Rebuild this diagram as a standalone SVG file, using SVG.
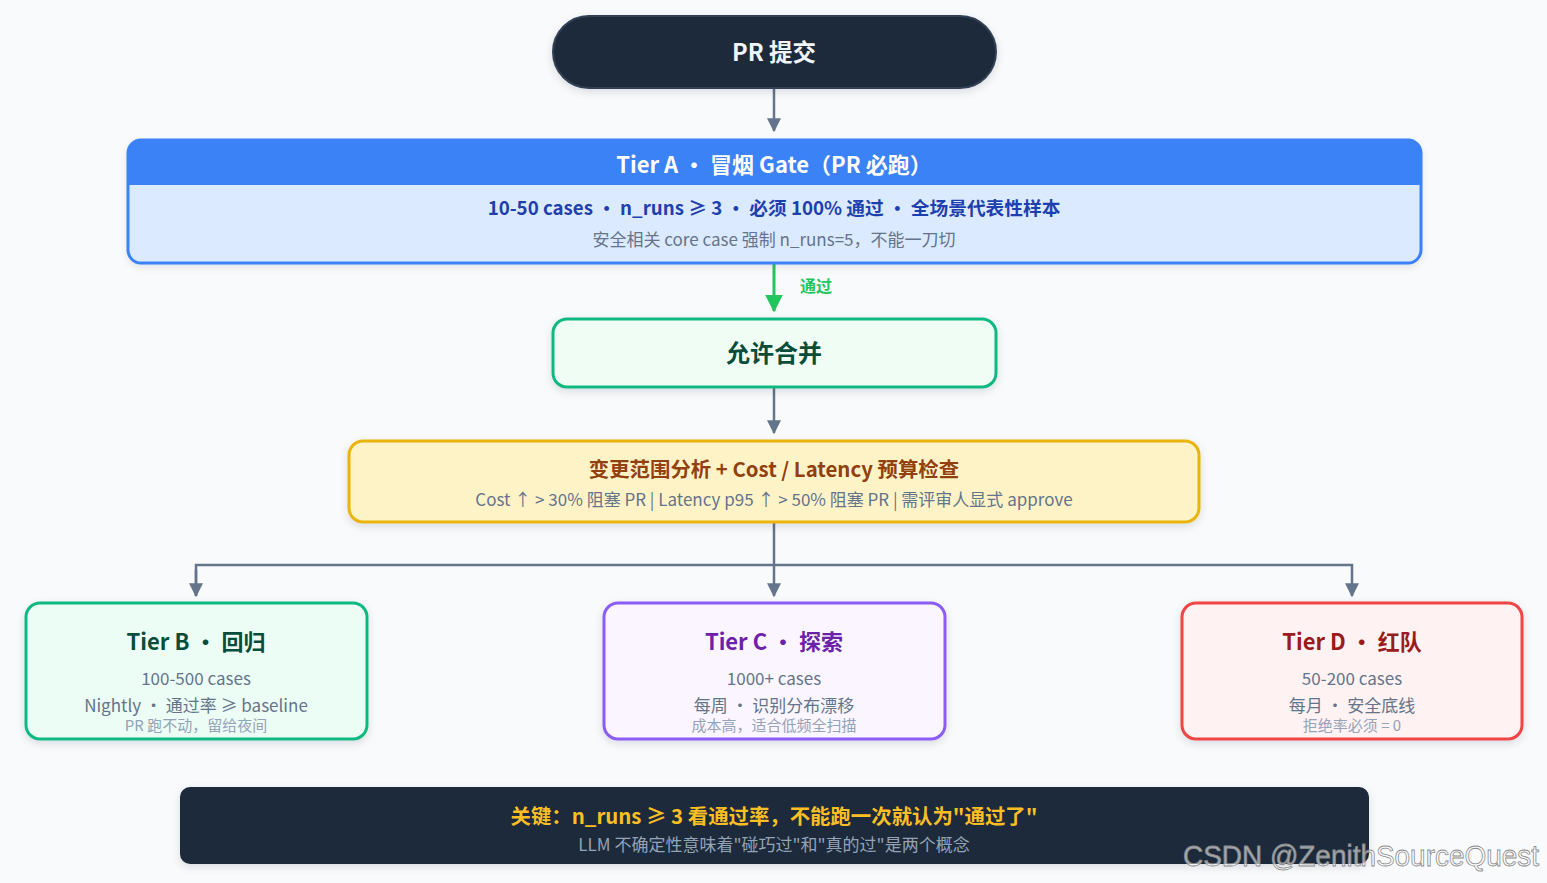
<svg xmlns="http://www.w3.org/2000/svg" width="1547" height="883" viewBox="0 0 1547 883">
<defs>
<style>
text{font-family:"Noto Sans CJK SC","Noto Sans",sans-serif;text-anchor:middle}
.b{font-weight:700}
.c{fill:none;stroke:#64748b;stroke-width:2.5}
.sub{fill:#64748b;font-size:17px}
.note{fill:#94a3b8;font-size:15px}
</style>
<marker id="ah" viewBox="0 0 12 12" refX="11" refY="6" markerWidth="15" markerHeight="14" markerUnits="userSpaceOnUse" orient="auto"><path d="M0,0 L12,6 L0,12 z" fill="#64748b"/></marker>
<marker id="ag" viewBox="0 0 12 12" refX="11" refY="6" markerWidth="18" markerHeight="18" markerUnits="userSpaceOnUse" orient="auto"><path d="M0,0 L12,6 L0,12 z" fill="#22c55e"/></marker>
<filter id="sh" x="-5%" y="-20%" width="110%" height="140%"><feDropShadow dx="0" dy="3" stdDeviation="4" flood-color="#0f172a" flood-opacity="0.12"/></filter>
<clipPath id="ca"><rect x="128" y="140" width="1293" height="123" rx="13"/></clipPath>
</defs>
<rect width="1547" height="883" fill="#f8fafc"/>
<g id="connectors">
<path class="c" d="M774,88 V131" marker-end="url(#ah)"/>
<path d="M774,263 V311" fill="none" stroke="#22c55e" stroke-width="3" marker-end="url(#ag)"/>
<text x="816" y="292" class="b" style="fill:#22c55e;font-size:16px">通过</text>
<path class="c" d="M774,387 V433" marker-end="url(#ah)"/>
<path class="c" d="M774,522 V596" marker-end="url(#ah)"/>
<path class="c" d="M196,596 V565 H1352 V596" marker-end="url(#ah)"/>
<path class="c" d="M196,570 V596" marker-end="url(#ah)"/>
</g>
<g id="pr">
<rect x="553" y="16" width="443" height="72" rx="36" fill="#1e293b" stroke="#334155" stroke-width="2" filter="url(#sh)"/>
<text x="774" y="61" class="b" style="fill:#f1f5f9;font-size:23.5px">PR 提交</text>
</g>
<g id="tierA">
<rect x="128" y="140" width="1293" height="123" rx="13" fill="#dbeafe" filter="url(#sh)"/>
<rect x="128" y="140" width="1293" height="45" fill="#3b82f6" clip-path="url(#ca)"/>
<rect x="128" y="140" width="1293" height="123" rx="13" fill="none" stroke="#3b82f6" stroke-width="3"/>
<text x="774" y="173" class="b" style="fill:#ffffff;font-size:22px">Tier A · 冒烟 Gate（PR 必跑）</text>
<text x="774" y="215" class="b" style="fill:#1e40af;font-size:18.7px">10-50 cases · n_runs ≥ 3 · 必须 100% 通过 · 全场景代表性样本</text>
<text x="774" y="246" style="fill:#64748b;font-size:17px">安全相关 core case 强制 n_runs=5，不能一刀切</text>
</g>
<g id="merge">
<rect x="553" y="319" width="443" height="68" rx="14" fill="#f0fdf4" stroke="#10b981" stroke-width="3" filter="url(#sh)"/>
<text x="774" y="362" class="b" style="fill:#064e3b;font-size:24px">允许合并</text>
</g>
<g id="budget">
<rect x="349" y="441" width="850" height="81" rx="14" fill="#fef3c7" stroke="#eab308" stroke-width="3" filter="url(#sh)"/>
<text x="774" y="477" class="b" style="fill:#92400e;font-size:20.4px">变更范围分析 + Cost / Latency 预算检查</text>
<text x="774" y="506" class="sub">Cost ↑ &gt; 30% 阻塞 PR | Latency p95 ↑ &gt; 50% 阻塞 PR | 需评审人显式 approve</text>
</g>
<g id="tierB">
<rect x="26" y="603" width="341" height="136" rx="14" fill="#ecfdf5" stroke="#10b981" stroke-width="3" filter="url(#sh)"/>
<text x="196" y="650" class="b" style="fill:#064e3b;font-size:22px">Tier B · 回归</text>
<text x="196" y="685" class="sub">100-500 cases</text>
<text x="196" y="712" class="sub">Nightly · 通过率 ≥ baseline</text>
<text x="196" y="731" class="note">PR 跑不动，留给夜间</text>
</g>
<g id="tierC">
<rect x="604" y="603" width="341" height="136" rx="14" fill="#faf5ff" stroke="#8b5cf6" stroke-width="3" filter="url(#sh)"/>
<text x="774" y="650" class="b" style="fill:#6b21a8;font-size:22px">Tier C · 探索</text>
<text x="774" y="685" class="sub">1000+ cases</text>
<text x="774" y="712" class="sub">每周 · 识别分布漂移</text>
<text x="774" y="731" class="note">成本高，适合低频全扫描</text>
</g>
<g id="tierD">
<rect x="1182" y="603" width="340" height="136" rx="14" fill="#fef2f2" stroke="#ef4444" stroke-width="3" filter="url(#sh)"/>
<text x="1352" y="650" class="b" style="fill:#991b1b;font-size:22px">Tier D · 红队</text>
<text x="1352" y="685" class="sub">50-200 cases</text>
<text x="1352" y="712" class="sub">每月 · 安全底线</text>
<text x="1352" y="731" class="note">拒绝率必须 = 0</text>
</g>
<g id="key">
<rect x="180" y="787" width="1189" height="77" rx="10" fill="#1e293b" filter="url(#sh)"/>
<text x="774" y="824" class="b" style="fill:#fbbf24;font-size:20.4px">关键：n_runs ≥ 3 看通过率，不能跑一次就认为"通过了"</text>
<text x="774" y="851" style="fill:#94a3b8;font-size:17px">LLM 不确定性意味着"碰巧过"和"真的过"是两个概念</text>
</g>
<text x="1361" y="866" textLength="356" lengthAdjust="spacingAndGlyphs" style="font-family:'Liberation Sans',sans-serif;font-size:29px;fill:#ffffff;fill-opacity:0.6;stroke:#8a8a8a;stroke-width:0.8">CSDN @ZenithSourceQuest</text>
</svg>
